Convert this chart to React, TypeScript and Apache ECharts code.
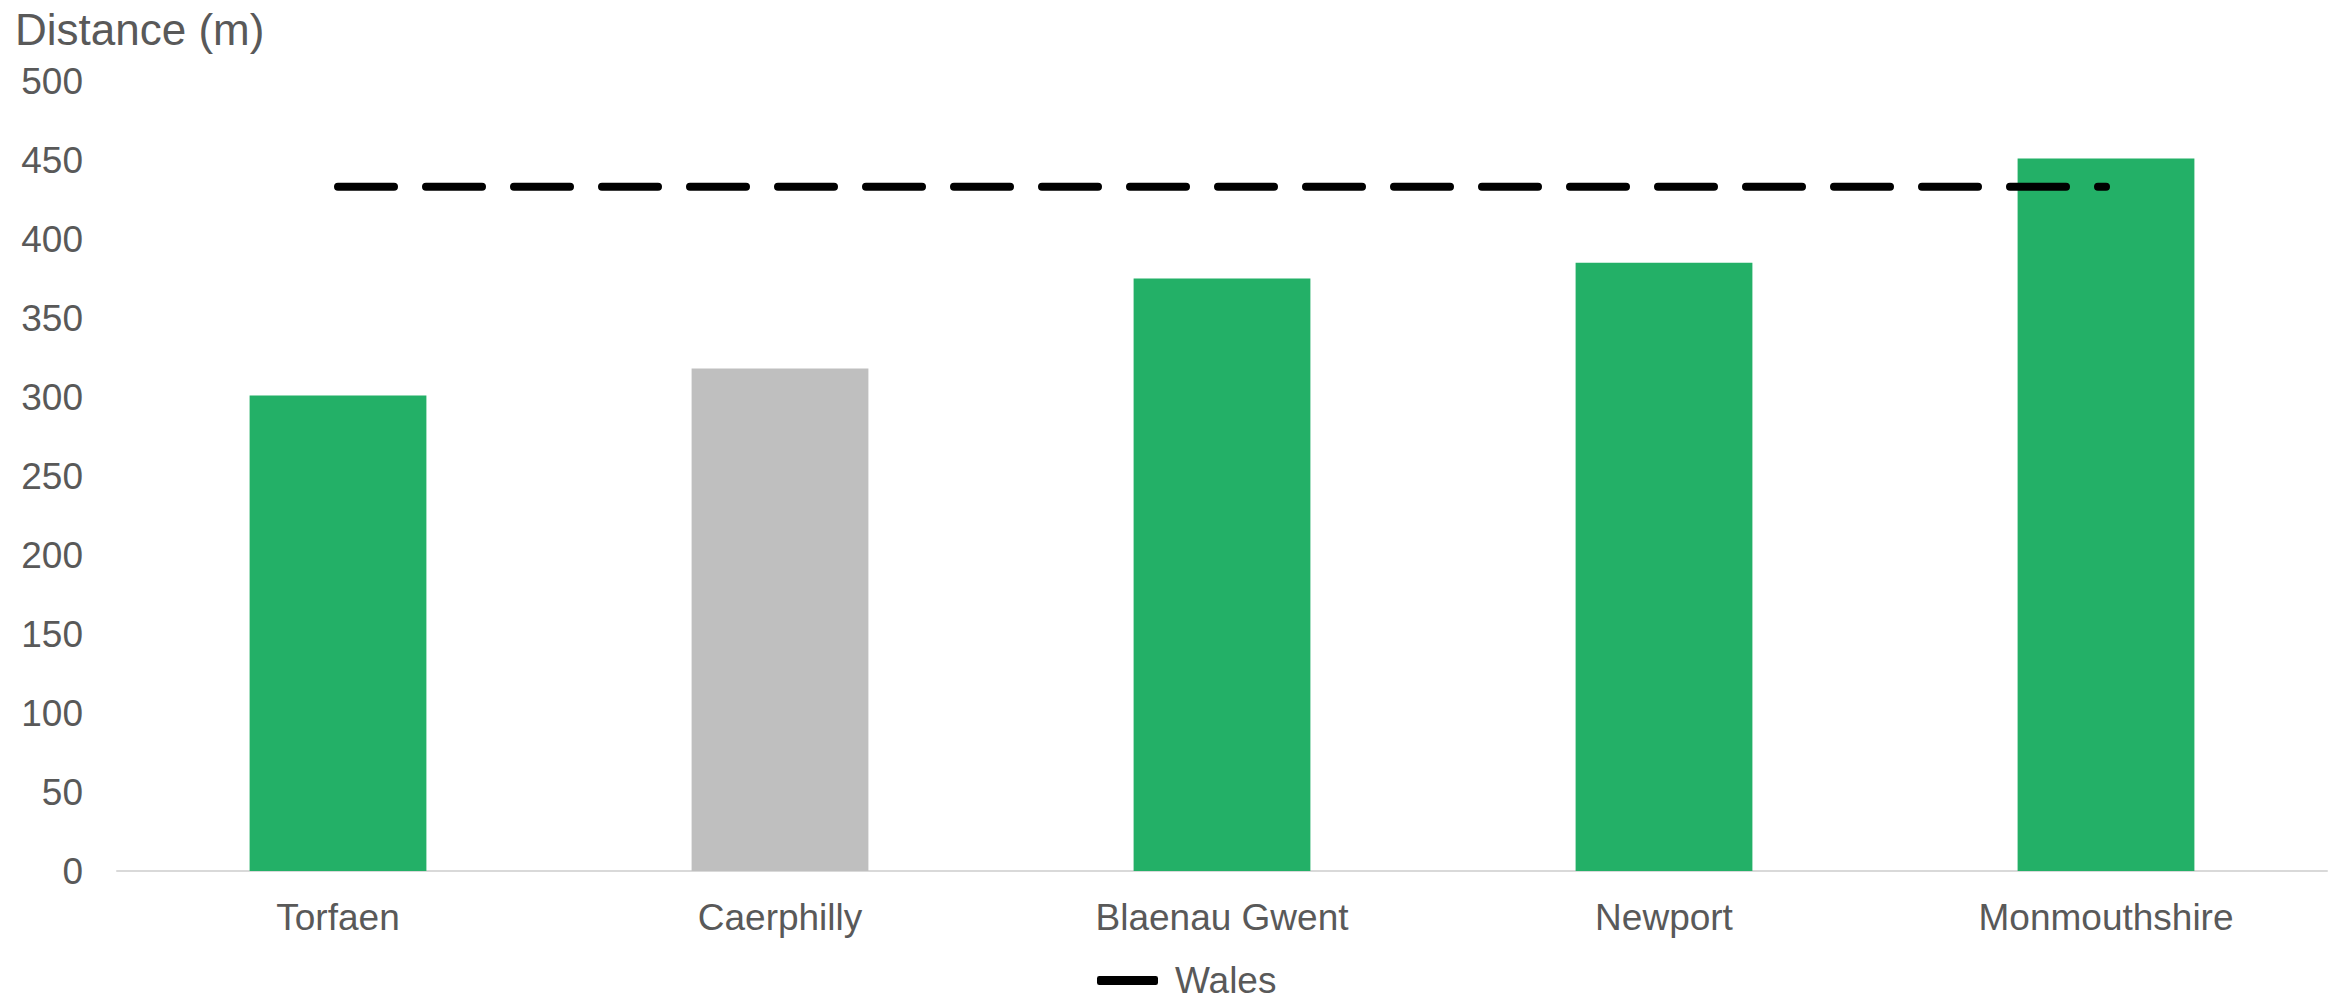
import React, { useEffect, useRef } from "react";
import * as echarts from "echarts";

const categories = ["Torfaen", "Caerphilly", "Blaenau Gwent", "Newport", "Monmouthshire"];
const distances = [301, 318, 375, 385, 451];
const highlighted = [false, true, false, false, false];
const walesValues = [433, 433, 433, 433, 433];
const yTicks = { min: 0, max: 500, interval: 50 };

const GREEN = "#23B067";
const GREY = "#BFBFBF";
const TEXT = "#595959";
const FONT = "'Liberation Sans', Arial, sans-serif";

export default function App() {
  const ref = useRef<HTMLDivElement>(null);
  useEffect(() => {
    if (!ref.current) return;
    const chart = echarts.init(ref.current, undefined, { renderer: "svg" });
    chart.setOption({
      animation: false,
      backgroundColor: "#ffffff",
      textStyle: { fontFamily: FONT, color: TEXT },
      grid: { left: 117, right: 14, top: 81, bottom: 130, containLabel: false },
      graphic: [
        {
          type: "text",
          left: 15,
          top: 7,
          style: { text: "Distance (m)", fontSize: 44, fill: TEXT, fontFamily: FONT },
        },
      ],
      legend: {
        left: 1097,
        top: 962,
        padding: 0,
        itemWidth: 61,
        itemHeight: 9,
        itemGap: 20,
        textStyle: { fontSize: 37, color: TEXT, fontFamily: FONT, padding: [0, 0, 0, 12] },
        data: [
          {
            name: "Wales",
            icon: "roundRect",
            itemStyle: { color: "#000" },
          },
        ],
      },
      xAxis: {
        type: "category",
        data: categories,
        axisTick: { show: false },
        axisLine: { lineStyle: { color: "#D9D9D9", width: 2 } },
        axisLabel: { fontSize: 37, color: TEXT, margin: 28, fontFamily: FONT },
        splitLine: { show: false },
      },
      yAxis: {
        type: "value",
        min: yTicks.min,
        max: yTicks.max,
        interval: yTicks.interval,
        axisLine: { show: false },
        axisTick: { show: false },
        splitLine: { show: false },
        axisLabel: { fontSize: 37, color: TEXT, margin: 34, fontFamily: FONT },
      },
      series: [
        {
          name: "Distance",
          type: "bar",
          barWidth: "40%",
          data: distances.map((v, i) => ({
            value: v,
            itemStyle: { color: highlighted[i] ? GREY : GREEN },
          })),
          z: 1,
        },
        {
          name: "Wales",
          type: "line",
          data: walesValues,
          symbol: "none",
          showSymbol: false,
          lineStyle: { color: "#000", width: 8, type: [56, 32], cap: "round" },
          itemStyle: { color: "#000" },
          z: 3,
        },
      ],
    });
    return () => chart.dispose();
  }, []);
  return (
    <div
      ref={ref}
      style={{ position: "fixed", left: 0, top: 0, width: 2341, height: 1001 }}
    />
  );
}
